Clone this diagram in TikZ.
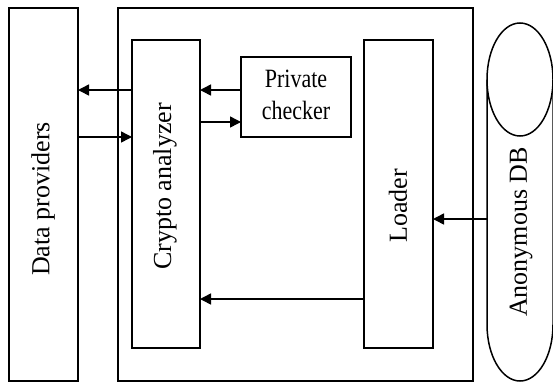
\documentclass[tikz,border=0pt]{standalone}
\usepackage{fontspec}
\setmainfont{Liberation Serif}
\usetikzlibrary{arrows.meta}
\begin{document}
\begin{tikzpicture}[x=1pt,y=-1pt,
  box/.style={draw,line width=1.5pt,inner sep=0pt,outer sep=0pt},
  vtext/.style={rotate=90,inner sep=0pt,font=\fontsize{26}{30}\selectfont},
  arr/.style={line width=1.5pt,-{Triangle[length=11pt,width=11pt]}}]
\useasboundingbox (0,0) rectangle (553,383);
% boxes
\node[box,minimum width=69pt,minimum height=373pt] (dp) at (43.5,194.5) {};
\node[box,minimum width=355pt,minimum height=373pt] (outer) at (295.5,194.5) {};
\node[box,minimum width=68pt,minimum height=308pt] (ca) at (166,194) {};
\node[box,minimum width=110pt,minimum height=80pt,font=\fontsize{22}{26.5}\selectfont] (pc) at (296,97)
  {\raisebox{-2pt}{\scalebox{1}[1.2]{\begin{tabular}{@{}c@{}}Private\\checker\end{tabular}}}};
\node[box,minimum width=69pt,minimum height=308pt] (ld) at (398.5,194) {};
% database cylinder
\draw[line width=1.5pt] (520,79.5) ellipse [x radius=33pt, y radius=56.5pt];
\draw[line width=1.5pt] (487,79.5) -- (487,324.5)
  arc[start angle=180, end angle=360, x radius=33pt, y radius=56.5pt] -- (553,79.5);
\coordinate (dbside) at (487,219);
% texts
\node[vtext] (dpt) at (43,199) {Data providers};
\node[vtext] (cat) at (165,186.5) {Crypto analyzer};
\node[vtext] (ldt) at (398,206) {Loader};
\node[vtext] (dbt) at (521,232) {Anonymous DB};
% connectors
\draw[arr] (ca.west |- 0,90) -- (dp.east |- 0,90);
\draw[arr] (dp.east |- 0,137) -- (ca.west |- 0,137);
\draw[arr] (pc.west |- 0,90) -- (ca.east |- 0,90);
\draw[arr] (ca.east |- 0,122) -- (pc.west |- 0,122);
\draw[arr] (ld.west |- 0,299) -- (ca.east |- 0,299);
\draw[arr] (dbside) -- (ld.east |- dbside);
\end{tikzpicture}
\end{document}
